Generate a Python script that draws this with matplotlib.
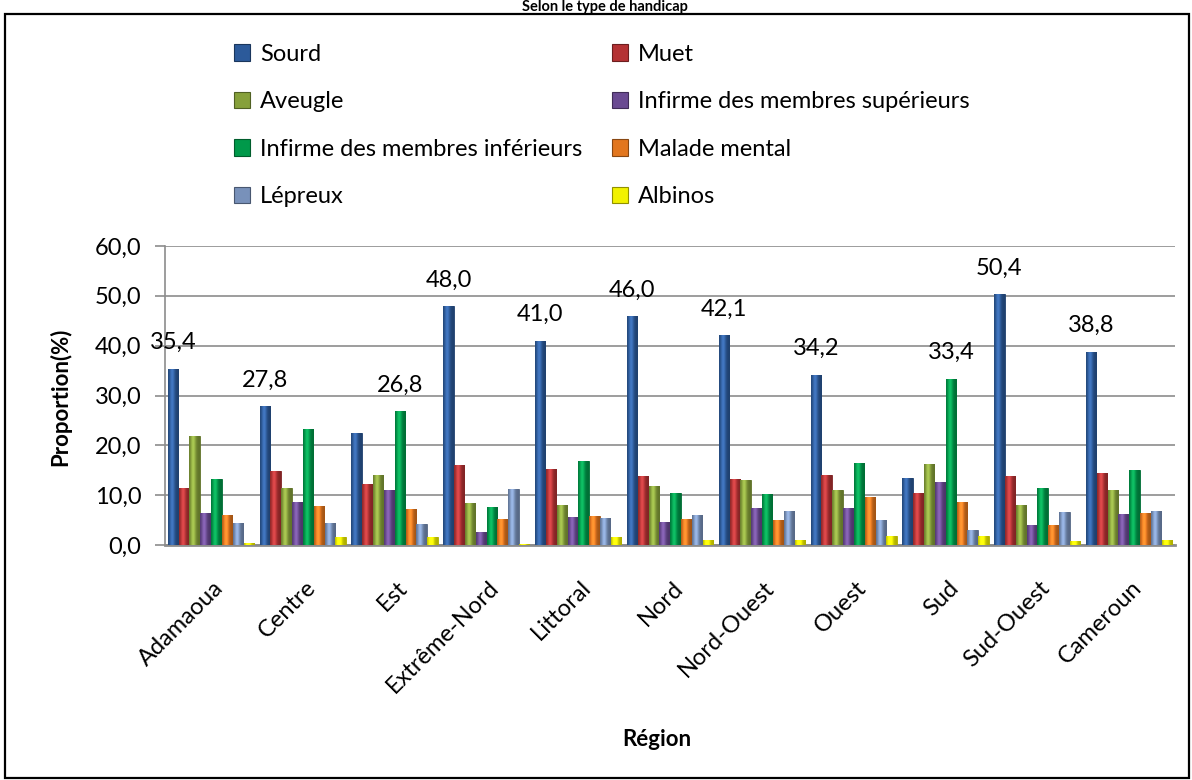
import matplotlib
matplotlib.use("Agg")
import matplotlib.pyplot as plt
import matplotlib.transforms as mtransforms
from matplotlib.patches import Patch, Rectangle
import numpy as np
from matplotlib.colors import to_rgb

plt.rcParams['font.family'] = ['Lato', 'DejaVu Sans']

regions = ["Adamaoua", "Centre", "Est", "Extrême-Nord", "Littoral", "Nord",
           "Nord-Ouest", "Ouest", "Sud", "Sud-Ouest", "Cameroun"]
series_names = ["Sourd", "Muet", "Aveugle", "Infirme des membres supérieurs",
                "Infirme des membres inférieurs", "Malade mental", "Lépreux", "Albinos"]
sourd = [35.4, 27.8, 22.4, 48.0, 41.0, 46.0, 42.1, 34.2, 13.5, 50.4, 38.8]
muet = [11.4, 14.9, 12.2, 16.0, 15.2, 13.8, 13.3, 14.0, 10.4, 13.8, 14.4]
aveugle = [21.8, 11.4, 14.0, 8.4, 8.0, 11.8, 13.1, 11.0, 16.2, 8.0, 11.0]
inf_sup = [6.5, 8.6, 11.0, 2.6, 5.6, 4.7, 7.4, 7.4, 12.6, 4.0, 6.2]
inf_inf = [13.3, 23.2, 26.8, 7.6, 16.8, 10.5, 10.2, 16.5, 33.4, 11.4, 15.1]
malade = [6.0, 7.8, 7.2, 5.2, 5.8, 5.2, 5.0, 9.6, 8.7, 4.0, 6.4]
lepreux = [4.5, 4.4, 4.2, 11.2, 5.4, 6.0, 6.8, 5.0, 3.0, 6.6, 6.8]
albinos = [0.4, 1.6, 1.6, 0.3, 1.6, 1.1, 1.1, 1.8, 1.9, 0.8, 1.1]
yticks = [0, 10, 20, 30, 40, 50, 60]

series = [sourd, muet, aveugle, inf_sup, inf_inf, malade, lepreux, albinos]
colors = ["#2C5A9A", "#B43234", "#86A03A", "#6A4A92", "#00994A", "#E2761E", "#7891BA", "#F2F200"]

FS = 17

fig = plt.figure(figsize=(11.92, 7.8), dpi=100)
W, H = 1192, 780
ax = fig.add_axes([165 / W, 1 - 545 / H, (1175 - 165) / W, (545 - 246) / H])

x = np.arange(len(regions))
bw = 0.118
n = len(series)

def grad_img(c):
    r = np.array(to_rgb(c))
    t = np.linspace(0, 1, 40)
    prof = 0.72 + 0.45 * np.exp(-((t - 0.38) / 0.28) ** 2)
    img = np.clip(r[None, :] * prof[:, None] + 0.06 * np.exp(-((t - 0.38) / 0.2) ** 2)[:, None], 0, 1)
    return img[None, :, :]

for i, (vals, c) in enumerate(zip(series, colors)):
    pos = x + (i - (n - 1) / 2) * bw
    bars = ax.bar(pos, vals, width=bw * 0.96, color=c, edgecolor=tuple(np.array(to_rgb(c)) * 0.7),
                  linewidth=0.6, zorder=3)
    img = grad_img(c)
    for b in bars:
        x0, w0, h0 = b.get_x(), b.get_width(), b.get_height()
        im = ax.imshow(img, extent=[x0, x0 + w0, 0, h0], aspect='auto', zorder=3.5,
                       interpolation='bilinear')
        im.set_clip_path(b)

# value labels above tallest bar in each group
for j in range(len(regions)):
    vals = [s[j] for s in series]
    k = int(np.argmax(vals))
    pos = x[j] + (k - (n - 1) / 2) * bw
    ax.text(pos, vals[k] + 5.2, f"{vals[k]:.1f}".replace('.', ','), ha='center', va='center',
            fontsize=FS, color='black', zorder=5)

ax.set_xlim(-0.5, len(regions) - 0.5)
ax.set_ylim(0, 60)
ax.set_yticks(yticks)
ax.set_yticklabels([f"{v:.1f}".replace('.', ',') for v in yticks], fontsize=FS)
ax.yaxis.grid(True, color='#8C8C8C', linewidth=1.2, zorder=0)
ax.set_axisbelow(True)
for s in ['top', 'right']:
    ax.spines[s].set_visible(False)
ax.spines['left'].set_color('#8C8C8C')
ax.spines['left'].set_linewidth(1.2)
ax.spines['bottom'].set_color('#8C8C8C')
ax.spines['bottom'].set_linewidth(2)
ax.tick_params(axis='y', length=7, color='#8C8C8C', width=1.2, pad=10)
ax.tick_params(axis='x', length=0, pad=23)
ax.set_xticks(x)
ax.set_xticklabels(regions, rotation=45, ha='right', va='top', rotation_mode='anchor', fontsize=FS)
offset = mtransforms.ScaledTranslation(2 / 100, 0, fig.dpi_scale_trans)
for lab in ax.get_xticklabels():
    lab.set_transform(lab.get_transform() + offset)

fig.text(60 / W, 1 - 397 / H, "Proportion(%)", rotation=90, ha='center', va='center',
         fontsize=FS - 1, fontweight='bold')
fig.text(657 / W, 1 - 740 / H, "Région", ha='center', va='center', fontsize=FS - 1, fontweight='bold')
fig.text(605 / W, 1 - 0.5 / H, "Selon le type de handicap", ha='center', va='top',
         fontsize=10.5, fontweight='bold')

handles = [Patch(facecolor=c, edgecolor=tuple(np.array(to_rgb(c)) * 0.6), linewidth=0.8) for c in colors]
order = [0, 2, 4, 6, 1, 3, 5, 7]
leg = fig.legend([handles[i] for i in order], [series_names[i] for i in order],
                 loc='upper left', bbox_to_anchor=(222 / W, 1 - 32 / H),
                 ncol=2, frameon=False, fontsize=FS, handlelength=0.7, handleheight=0.7,
                 handletextpad=0.4, labelspacing=1.12, columnspacing=1.25, borderpad=0)

fig.patches.append(Rectangle((5 / W, 2 / H), 1184 / W, 764 / H, transform=fig.transFigure,
                             fill=False, edgecolor='black', linewidth=1.6))

fig.savefig("out.png", dpi=100)
